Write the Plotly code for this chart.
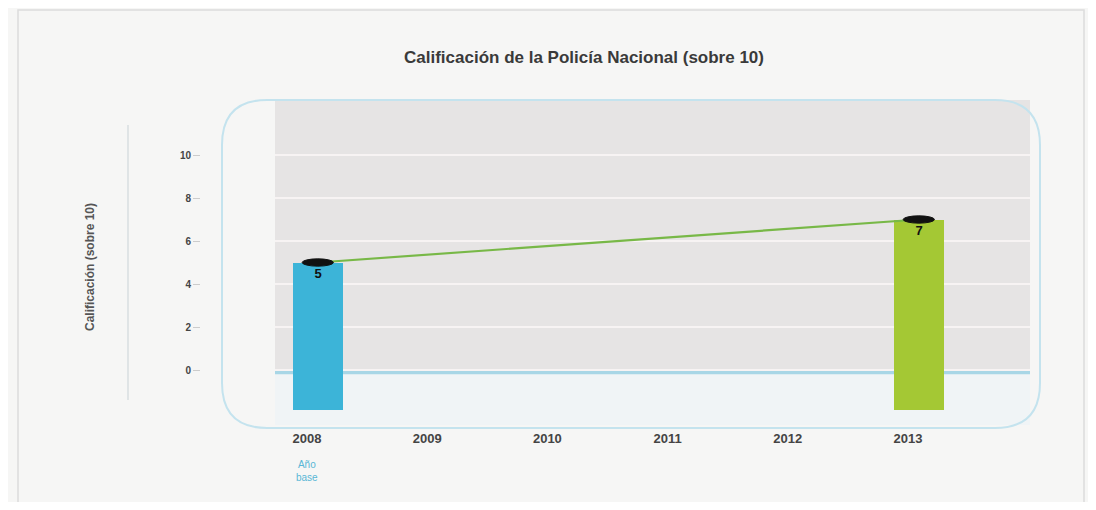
import plotly.graph_objects as go

# ---- data ----
years = [2008, 2013]
scores = [5, 7]
score_labels = ["5", "7"]
bar_colors = ["#3cb4d8", "#a4c834"]
tick_years = [2008, 2009, 2010, 2011, 2012, 2013]
y_ticks = [0, 2, 4, 6, 8, 10]

title_text = "Calificación de la Policía Nacional (sobre 10)"
y_title = "Calificación (sobre 10)"
base_note = "Año<br>base"

OFF = 8  # page body margin
W, H = 1096 - 2 * OFF, 510 - 2 * OFF
FLOOR = -1.85   # depth of the 3D floor below zero
DEPTH = 0.09    # 3D perspective shift of the bars vs. their labels
X_RANGE = [2007.734, 2014.015]

def px(x):
    return (x - OFF) / W

def py(y):
    return 1 - (y - OFF) / H

FONT = "Liberation Sans"

fig = go.Figure()

# empty trace that keeps the labelled category axis alive
fig.add_trace(go.Scatter(
    x=tick_years, y=[None] * len(tick_years), mode="markers",
    hoverinfo="skip", showlegend=False,
))

fig.add_trace(go.Bar(
    x=years,
    y=[v - FLOOR for v in scores],
    base=[FLOOR] * len(scores),
    width=0.42,
    xaxis="x2",
    marker=dict(color=bar_colors, line=dict(width=0)),
    text=["<b>%s</b>" % s for s in score_labels],
    textposition="inside",
    insidetextanchor="end",
    textfont=dict(color="#111", size=13, family=FONT),
    hoverinfo="skip",
    showlegend=False,
))

fig.add_trace(go.Scatter(
    x=years, y=scores, mode="lines", xaxis="x2",
    line=dict(color="#78b847", width=2.2),
    hoverinfo="skip", showlegend=False,
))

shapes = []
# grey back wall above the floor
shapes.append(dict(type="rect", xref="x domain", yref="y", x0=0, x1=1, y0=0, y1=12.56,
                   fillcolor="#e6e4e4", line=dict(width=0), layer="below"))
# floor edge line
shapes.append(dict(type="line", xref="x domain", yref="y", x0=0, x1=1, y0=-0.1, y1=-0.1,
                   line=dict(color="#a8d6e6", width=4), layer="below"))
# black caps on top of bars
for yr, v in zip(years, scores):
    shapes.append(dict(type="circle", xref="x2", yref="y",
                       x0=yr - 0.13, x1=yr + 0.13, y0=v - 0.17, y1=v + 0.17,
                       fillcolor="#111", line=dict(color="#111", width=1), layer="above"))

def rounded_rect(x0, y0, x1, y1, r):
    X0, X1 = px(x0), px(x1)
    Y0, Y1 = py(y0), py(y1)
    rx, ry = r / W, r / H
    return (f"M {X0+rx},{Y0} L {X1-rx},{Y0} Q {X1},{Y0} {X1},{Y0-ry} "
            f"L {X1},{Y1+ry} Q {X1},{Y1} {X1-rx},{Y1} L {X0+rx},{Y1} "
            f"Q {X0},{Y1} {X0},{Y1+ry} L {X0},{Y0-ry} Q {X0},{Y0} {X0+rx},{Y0} Z")

shapes.append(dict(type="path", xref="paper", yref="paper",
                   path=rounded_rect(222, 100, 1040, 428, 45),
                   line=dict(color="#c4e3ee", width=2), layer="below"))
# decorative vertical line left of axis title
shapes.append(dict(type="line", xref="paper", yref="paper",
                   x0=px(128), x1=px(128), y0=py(125), y1=py(400),
                   line=dict(color="#c9d2d6", width=1)))
# outer border
shapes.append(dict(type="rect", xref="paper", yref="paper",
                   x0=px(18), x1=px(1084), y0=py(10), y1=py(503),
                   line=dict(color="#dcdcdc", width=1.5), fillcolor="rgba(0,0,0,0)", layer="below"))

annotations = [
    dict(text="<b>%s</b>" % y_title, textangle=-90, x=px(90), y=py(267),
         xref="paper", yref="paper", xanchor="center", yanchor="middle",
         showarrow=False, font=dict(size=12, color="#555", family=FONT)),
    dict(text=base_note, x=px(307), y=py(471), xref="paper", yref="paper",
         xanchor="center", yanchor="middle",
         showarrow=False, font=dict(size=10, color="#5ab6d6", family=FONT)),
]

fig.update_layout(
    width=W, height=H,
    margin=dict(l=0, r=0, t=0, b=0),
    paper_bgcolor="#f6f6f5",
    plot_bgcolor="#f0f4f6",
    title=dict(text="<b>%s</b>" % title_text, x=px(584), xanchor="center", y=py(57), yanchor="middle",
               font=dict(size=17, color="#3a3a3a", family=FONT)),
    xaxis=dict(domain=[px(275), px(1030)], range=X_RANGE,
               tickvals=tick_years, ticktext=["<b>%d</b>" % t for t in tick_years],
               showgrid=False, zeroline=False, showline=False,
               ticks="outside", ticklen=1, tickcolor="rgba(0,0,0,0)",
               tickfont=dict(size=13, color="#444", family=FONT)),
    xaxis2=dict(domain=[px(275), px(1030)], overlaying="x", anchor="y",
                range=[X_RANGE[0] - DEPTH, X_RANGE[1] - DEPTH], visible=False),
    yaxis=dict(domain=[py(425), py(100)], range=[-2.558, 12.558],
               anchor="free", position=px(200),
               tickvals=y_ticks, ticktext=["<b>%d</b>" % t for t in y_ticks],
               ticks="outside", ticklen=7, tickcolor="#ccc",
               showgrid=True, gridcolor="#f7f3f3", gridwidth=1.5,
               zeroline=False, showline=False,
               tickfont=dict(size=10, color="#444", family=FONT)),
    shapes=shapes,
    annotations=annotations,
    bargap=0,
)

fig.write_html("out.html")
